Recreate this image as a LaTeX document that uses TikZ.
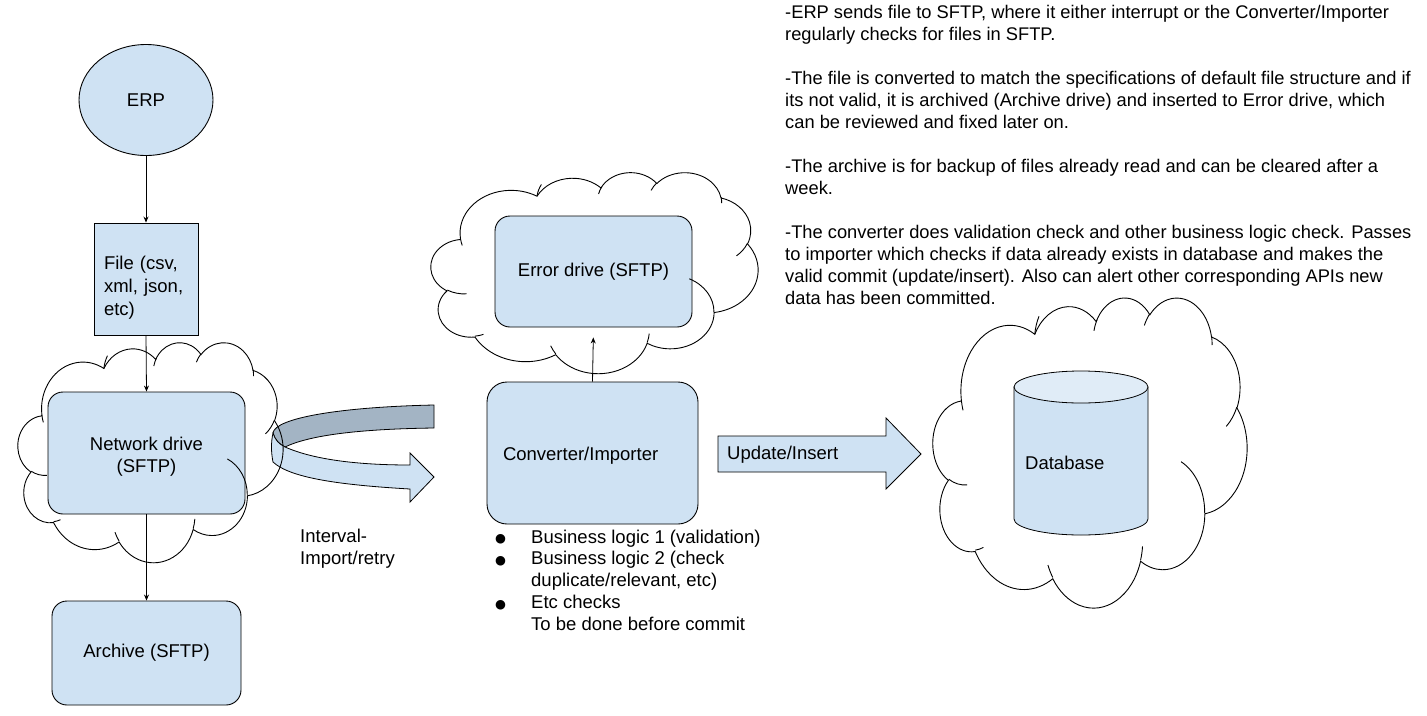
\documentclass[tikz,border=0pt]{standalone}
\usepackage{fontspec}
\setmainfont{Liberation Sans}
\newfontfamily\symfont{DejaVu Sans}
\usetikzlibrary{arrows.meta,shapes.geometric}
\definecolor{boxblue}{HTML}{CFE2F3}
\definecolor{bandgray}{HTML}{A3B4C4}
\definecolor{cyltop}{HTML}{E0ECF7}

% OOXML arcTo -> TikZ parametric arc
\makeatletter
\newcommand\ooarccalc[5]{% name, wR, hR, stAng, swAng (degrees, visual)
  \pgfmathsetmacro\oo@a{atan2((#2)*sin(#4),(#3)*cos(#4))}%
  \pgfmathsetmacro\oo@b{atan2((#2)*sin((#4)+(#5)),(#3)*cos((#4)+(#5)))}%
  \pgfmathsetmacro\oo@d{\oo@b-\oo@a}%
  \pgfmathsetmacro\oo@d{(#5)>0 ? (\oo@d<0 ? \oo@d+360 : \oo@d) : (\oo@d>0 ? \oo@d-360 : \oo@d)}%
  \expandafter\xdef\csname oo#1s\endcsname{\oo@a}%
  \expandafter\xdef\csname oo#1d\endcsname{\oo@d}%
  \expandafter\xdef\csname oo#1x\endcsname{#2}%
  \expandafter\xdef\csname oo#1y\endcsname{#3}%
}
\makeatother
% outline
\ooarccalc{A}{67.53}{91.90}{-190.487483}{123.780533}
\ooarccalc{B}{53.33}{72.67}{-144.102383}{89.945233}
\ooarccalc{C}{43.65}{59.45}{-145.807917}{99.723017}
\ooarccalc{D}{48.57}{65.95}{-130.986067}{117.241733}
\ooarccalc{E}{53.33}{72.73}{-78.708883}{109.026917}
\ooarccalc{F}{67.75}{92.20}{-46.26725}{130.269}
\ooarccalc{G}{57.85}{78.67}{0.625017}{114.033333}
\ooarccalc{H}{67.52}{92.15}{22.4516}{115.17255}
\ooarccalc{I}{77.20}{105.43}{66.242633}{75.711017}
\ooarccalc{J}{43.60}{59.18}{-274.942083}{146.735567}
\ooarccalc{K}{43.45}{59.45}{-246.8285}{152.51885}
% inner arcs
\ooarccalc{a}{43.45}{59.45}{86.742}{26.4295}
\ooarccalc{b}{43.60}{59.18}{73.610467}{11.447467}
\ooarccalc{c}{67.52}{92.15}{137.62415}{14.0811}
\ooarccalc{d}{67.52}{92.15}{6.453267}{15.99835}
\ooarccalc{e}{57.85}{78.67}{-70.29235}{70.917367}
\ooarccalc{f}{53.33}{72.73}{30.318033}{27.7515}
\ooarccalc{g}{48.57}{65.95}{-13.744333}{14.8589}
\ooarccalc{h}{48.57}{65.95}{-149.18145}{18.195367}
\ooarccalc{i}{43.65}{59.45}{-163.494267}{19.50775}
\ooarccalc{j}{53.33}{72.67}{-170.276917}{26.17445}
\ooarccalc{k}{67.53}{91.90}{157.6}{11.91}

\tikzset{
  ooarc/.style={start angle=\csname oo#1s\endcsname, delta angle=\csname oo#1d\endcsname,
    x radius=\csname oo#1x\endcsname, y radius=\csname oo#1y\endcsname},
  lbl/.style={font=\fontsize{18.5}{22}\selectfont, text=black, inner sep=0pt},
  rbox/.style={draw=black, line width=0.9pt, fill=boxblue, rounded corners=15pt, inner sep=0pt,
    font=\fontsize{18.5}{22}\selectfont},
  sqbox/.style={draw=black, line width=0.9pt, fill=boxblue, inner sep=0pt,
    font=\fontsize{18.5}{23}\selectfont},
  conn/.style={draw=black, line width=0.8pt, -{Stealth[length=6pt,width=5pt]}},
  cloudline/.style={draw=black, line width=0.9pt},
  bandline/.style={draw=black, line width=0.8pt},
}
\newcommand\blt{\makebox[37pt][l]{\hspace{1pt}{\symfont\fontsize{12.5}{12.5}\selectfont\raisebox{0.5pt}{●}}}}
\newcommand\nblt{\makebox[37pt][l]{}}

\newcommand\oocloud[4]{% x0 y0 w h
  \begin{scope}[shift={(#1,#2)}, xscale=#3/432, yscale=#4/432]
    \draw[cloudline] (39.00,143.70) arc[ooarc=A] arc[ooarc=B] arc[ooarc=C] arc[ooarc=D]
      arc[ooarc=E] arc[ooarc=F] arc[ooarc=G] arc[ooarc=H] arc[ooarc=I] arc[ooarc=J]
      arc[ooarc=K] -- cycle;
    \draw[cloudline] (46.93,261.77) arc[ooarc=a] (69.28,348.99) arc[ooarc=b]
      (164.78,390.90) arc[ooarc=c] (288.27,347.51) arc[ooarc=d]
      (341.29,229.54) arc[ooarc=e] (417.98,153.54) arc[ooarc=f]
      (383.24,54.26) arc[ooarc=g] (290.78,39.52) arc[ooarc=h]
      (221.41,47.20) arc[ooarc=i] (140.00,51.92) arc[ooarc=j]
      (41.27,157.89) arc[ooarc=k];
  \end{scope}}

\begin{document}
\begin{tikzpicture}[x=1pt,y=1pt,yscale=-1]
\useasboundingbox (0,0) rectangle (1427,715);
\fill[white] (0,0) rectangle (1427,715);

% left column
\node[ellipse, draw=black, line width=0.9pt, fill=boxblue, minimum width=134pt, minimum height=111pt,
  inner sep=0pt, font=\fontsize{18.5}{22}\selectfont] (erp) at (146,100) {ERP};
\node[sqbox, minimum width=104pt, minimum height=112pt, text width=84pt, align=left] (file) at (146,279)
  {\rule{0pt}{30pt}File (csv,\\xml, json,\\etc)};
\node[rbox, minimum width=197pt, minimum height=122pt, align=center] (net) at (146.5,453)
  {\rule{0pt}{21.7pt}Network drive\\(SFTP)};
\node[rbox, minimum width=189pt, minimum height=104pt] (arch) at (146.5,653) {Archive (SFTP)};

% middle
\node[rbox, minimum width=197pt, minimum height=111pt] (err) at (593.5,271.5) {Error drive (SFTP)};
\node[rbox, rounded corners=20pt, minimum width=211pt, minimum height=142pt, text width=179pt,
  align=left] (conv) at (592.5,453) {\rule{0pt}{19.7pt}Converter/Importer};

% connectors
\draw[conn] (erp.south) -- (file.north);
\draw[conn] (file.south) -- (net.north);
\draw[conn] (net.south) -- (arch.north);
\draw[conn, shorten >=10pt] (conv.north) -- (err.south);

% curved ribbon arrow
\filldraw[bandline, fill=bandgray] (434,405) .. controls (340,407) and (275,418) .. (273,433)
  .. controls (275,440) and (279,444) .. (285,447)
  .. controls (310,435) and (360,429) .. (434,428) -- cycle;
\filldraw[bandline, fill=boxblue] (273,433) .. controls (275,440) and (279,444) .. (285,447)
  .. controls (310,458) and (350,465) .. (410,465) -- (410,453) -- (434,477) -- (410,502) -- (410,489)
  .. controls (340,485) and (290,478) .. (273,462)
  .. controls (271,452) and (271,442) .. (273,433) -- cycle;
\node[lbl, align=left, anchor=north west] (intv) at (300,529) {Interval-\\Import/retry};

% update/insert block arrow
\filldraw[bandline, fill=boxblue] (718,436) -- (886,436) -- (886,418) -- (921,454) -- (886,489)
  -- (886,472) -- (718,472) -- cycle;
\node[lbl, anchor=west] (upd) at (727,455) {Update/Insert};

% database cylinder
\filldraw[bandline, fill=boxblue] (1014,387) -- (1014,519) arc[start angle=180, end angle=0,
  x radius=67, y radius=16] -- (1148,387) -- cycle;
\filldraw[bandline, fill=cyltop] (1081,387) ellipse[x radius=67, y radius=16];
\node[lbl, anchor=west] (db) at (1025,463) {Database};

% clouds
\oocloud{18}{342}{265}{220}
\oocloud{431}{172}{327}{201}
\oocloud{933}{297}{314}{310}

% bullet list
\node[lbl, align=left, anchor=north west, font=\fontsize{18.5}{21.8}\selectfont] (list) at (494,529.5)
  {\blt Business logic 1 (validation)\\
   \blt Business logic 2 (check\\
   \nblt duplicate/relevant, etc)\\
   \blt Etc checks\\
   \nblt To be done before commit};

% notes
\node[lbl, align=left, anchor=north west, font=\fontsize{18.3}{22}\selectfont] (notes) at (785,5.5)
  {-ERP sends file to SFTP, where it either interrupt or the Converter/Importer\\
   regularly checks for files in SFTP.\\[22pt]
   -The file is converted to match the specifications of default file structure and if\\
   its not valid, it is archived (Archive drive) and inserted to Error drive, which\\
   can be reviewed and fixed later on.\\[22pt]
   -The archive is for backup of files already read and can be cleared after a\\
   week.\\[22pt]
   -The converter does validation check and other business logic check. Passes\\
   to importer which checks if data already exists in database and makes the\\
   valid commit (update/insert). Also can alert other corresponding APIs new\\
   data has been committed.};
\end{tikzpicture}
\end{document}
